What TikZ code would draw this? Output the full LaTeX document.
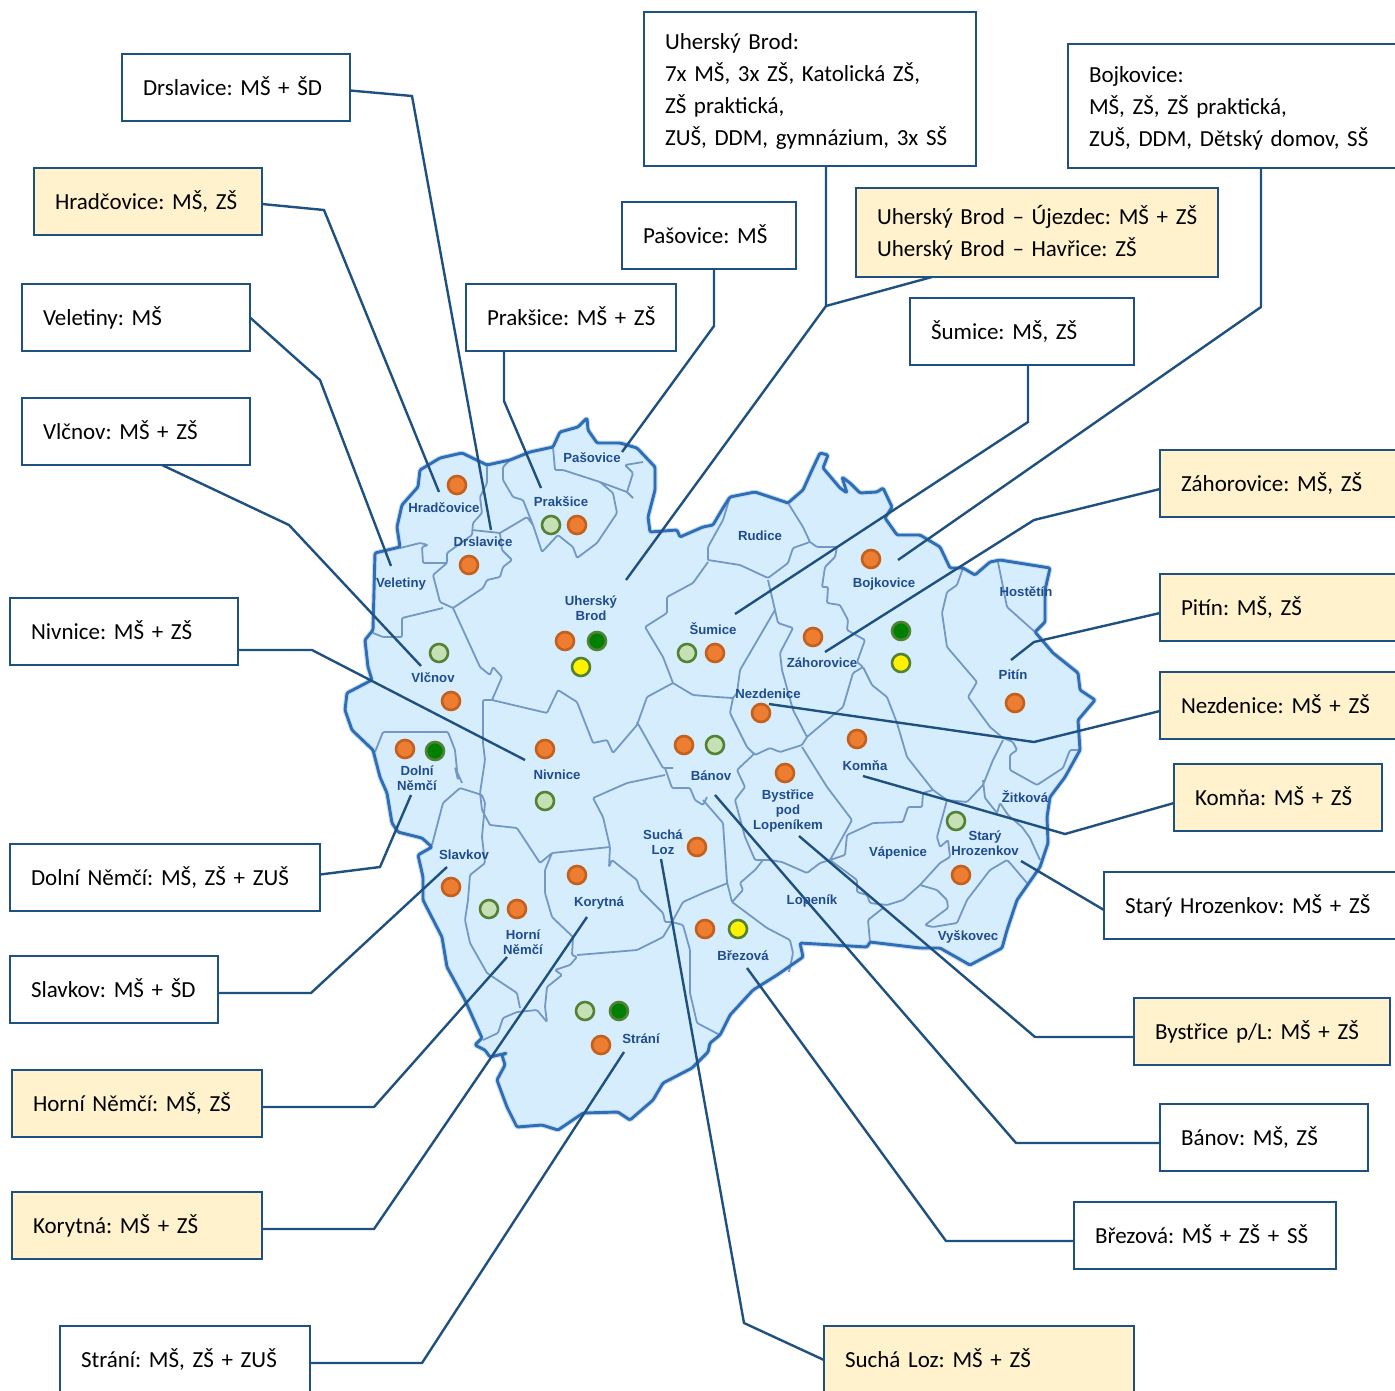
\documentclass[tikz,border=0pt]{standalone}
\usepackage{fontspec}
\setmainfont{Carlito}
\newfontfamily\mapfont{Liberation Sans}[BoldFont={Liberation Sans Bold}]
\usetikzlibrary{calc}
\frenchspacing
\definecolor{frameblue}{HTML}{1F5180}
\definecolor{paleyellow}{HTML}{FFF2CC}
\definecolor{mapfill}{HTML}{D6EDFD}
\definecolor{mapedge}{HTML}{2F6DB5}
\definecolor{mapglow}{HTML}{C4DDF3}
\definecolor{mapinner}{HTML}{7498C4}
\definecolor{maptext}{HTML}{1F4C8F}
\definecolor{dotorange}{HTML}{ED7D31}
\definecolor{dotorangeedge}{HTML}{C5601C}
\definecolor{dotlight}{HTML}{C5E0B4}
\definecolor{dotedge}{HTML}{548235}
\tikzset{
  infobox/.style={draw=frameblue,line width=2.4pt,fill=white,anchor=north west,inner xsep=21pt,inner ysep=0pt,outer sep=0pt,
    align=left,font=\fontsize{23}{32}\selectfont,text=black,minimum height=67pt,
    execute at begin node={\rule{0pt}{26.4pt}},execute at end node=\strut},
  yellowbox/.style={infobox,fill=paleyellow},
  conn/.style={draw=frameblue,line width=2.4pt,line join=miter},
  place/.style={font=\mapfont\bfseries\fontsize{13.2}{15}\selectfont,text=maptext,align=center,inner sep=0pt},
  dotbase/.style={circle,inner sep=0pt,outer sep=0pt,minimum size=18pt,line width=2.6pt},
  dotO/.style={dotbase,fill=dotorange,draw=dotorangeedge},
  dotL/.style={dotbase,fill=dotlight,draw=dotedge},
  dotD/.style={dotbase,fill=green!50!black,draw=dotedge},
  dotY/.style={dotbase,fill=yellow,draw=dotedge},
  mapline/.style={rounded corners=1.2pt,line join=round},
}
\def\mapoutline{(375,553)--(400,547)--(397,527)--(402,505)--(418,487)--(420,470)--(440,458)--(462,453)--(487,465)--(510,460)--(530,452)--(553,447)--(560,432)--(578,427)--(587,418)--(588,430)--(597,443)--(620,443)--(637,448)--(655,467)--(655,490)--(648,517)--(650,532)--(677,530)--(680,537)--(703,527)--(713,525)--(723,508)--(730,497)--(755,492)--(788,503)--(803,490)--(812,470)--(820,453)--(828,455)--(823,468)--(840,488)--(847,493)--(842,477)--(850,483)--(860,493)--(877,492)--(883,488)--(892,507)--(885,518)--(897,535)--(920,535)--(940,547)--(950,568)--(963,568)--(975,575)--(990,562)--(1000,560)--(1050,568)--(1045,590)--(1045,622)--(1035,632)--(1053,653)--(1078,673)--(1080,690)--(1095,700)--(1078,720)--(1080,750)--(1065,777)--(1050,797)--(1047,817)--(1048,843)--(1040,867)--(1017,900)--(1007,930)--(1002,948)--(970,965)--(940,948)--(920,948)--(870,942)--(867,947)--(800,943)--(803,957)--(777,975)--(753,990)--(730,1015)--(720,1035)--(710,1043)--(708,1052)--(692,1068)--(663,1083)--(653,1100)--(630,1120)--(618,1112)--(583,1113)--(558,1130)--(542,1125)--(517,1127)--(507,1107)--(497,1080)--(505,1065)--(502,1055)--(507,1053)--(490,1057)--(485,1050)--(475,1045)--(482,1038)--(465,1000)--(447,967)--(442,937)--(423,900)--(423,877)--(418,855)--(432,847)--(422,838)--(398,832)--(392,823)--(387,793)--(380,777)--(373,750)--(352,730)--(345,710)--(347,693)--(372,680)--(368,667)--(365,640)--(373,630)--cycle}
\begin{document}
\begin{tikzpicture}[x=1pt,y=-1pt]
\clip (0,0) rectangle (1395,1390);
\fill[white] (0,0) rectangle (1395,1390);
% map area
\draw[mapline,draw=mapglow,line width=5pt,fill=mapfill] \mapoutline;
% inner boundaries
\draw[mapinner,line width=1.8pt,mapline]
 (487,465)--(487,483)--(480,497)--(482,513)--(473,523)--(472,535)--(447,553)--(447,563)--(423,563)--(422,547)--(428,545)--(420,543)--(400,548)
 (472,530)--(500,533)--(502,550)--(512,560)--(503,567)--(500,577)--(487,580)--(483,588)--(453,608)--(440,602)--(433,575)--(447,563)
 (500,533)--(527,517)--(533,525)--(542,552)--(558,535)--(573,547)--(577,558)--(597,543)--(617,513)--(613,493)--(600,482)--(563,470)--(555,470)--(553,447)
 (533,525)--(523,500)--(513,497)--(503,480)--(503,467)--(510,460)
 (600,482)--(627,492)--(633,498) (627,492)--(633,473)--(625,465)--(643,462)
 (373,633)--(383,637)--(402,637)--(402,618)--(443,608)
 (453,608)--(480,667)--(490,675)--(493,667)--(502,677)--(492,700)
 (492,700)--(483,700)--(483,743)--(485,760)--(480,793)--(482,810)--(490,825)
 (492,700)--(547,713)--(558,690)--(577,702)--(593,743)--(607,740)--(613,753)--(637,725)--(647,697)--(673,683)
 (637,722)--(663,768)--(673,768)
 (665,775)--(627,783)--(593,798)--(603,817)--(610,847)--(552,853)--(540,863)--(517,828)--(490,825)
 (665,768)--(672,788)--(690,788)--(695,800)--(703,805)--(707,797)
 (703,800)--(723,823)--(727,882)
 (728,883)--(703,893)--(683,902)--(672,922)--(663,937)--(637,950)--(577,955)
 (610,847)--(609,867)--(612,860)--(637,880)--(640,890)--(663,913)--(665,922)--(672,922)--(683,925)--(690,950)--(690,993)--(697,1023)--(720,1035)
 (552,853)--(545,870)--(545,893)--(552,917)--(573,937)--(572,955)--(577,957)--(570,965)--(555,970)--(562,975)--(547,987)--(545,1007)--(547,1022)--(537,1010)--(517,1012)--(503,1018)--(498,1033)--(483,1040)
 (485,803)--(482,837)--(485,863)--(470,875)--(468,900)--(465,920)--(470,943)--(487,973)--(517,993)--(520,1008)
 (432,845)--(443,803)--(460,788)--(482,795)--(485,803)
 (375,752)--(383,732)--(448,732)--(455,750)--(458,780)--(455,767)--(462,783)
 (673,683)--(663,657)--(645,627)--(667,613)--(667,597)--(693,583)--(708,562)
 (708,560)--(740,565)--(768,578)--(788,563)--(793,548)--(810,542)--(803,527)--(788,503)
 (708,560)--(708,547)--(723,520)--(730,497)
 (810,542)--(817,547)--(837,547)--(835,557)--(825,567)--(822,587)--(828,587)--(827,603)--(840,605)--(848,620)--(847,630)--(865,640)--(857,662)--(863,667)--(853,673)--(843,707)--(827,720)--(807,737)--(793,710)--(782,670)--(780,653)--(793,628)--(778,623)--(768,580)
 (775,610)--(740,670)--(737,693)--(733,698)--(717,697)--(693,695)--(673,683)
 (733,698)--(730,713)--(747,747)--(755,755)--(770,748)--(780,752)--(802,745)--(807,737)
 (755,753)--(737,770)--(745,787)--(735,800)--(745,837)--(755,860)--(770,860)--(782,862)--(807,873)--(820,863)--(830,860)--(852,820)--(827,787)--(802,747)
 (727,882)--(732,902)--(767,928)--(790,940)--(793,953)--(789,972)
 (732,902)--(743,890)--(740,883)--(755,870)--(763,860)
 (830,860)--(857,880)--(857,892)--(867,895)--(870,903)--(887,905)--(903,900)--(920,885)--(940,863)--(950,857)--(948,840)--(940,847)--(937,837)--(947,800)--(933,790)
 (830,860)--(845,855)--(847,835)--(873,823)--(903,822)--(908,807)--(922,807)--(923,793)--(933,790)
 (863,667)--(872,685)--(887,697)--(897,723)--(907,757)--(933,790)--(947,800)--(967,802)--(983,785)--(993,760)--(1003,740)
 (963,568)--(957,585)--(947,592)--(942,613)--(947,647)--(977,682)--(968,697)--(990,727)--(1003,738)--(1013,742)--(1017,750)--(1010,755)--(1010,770)--(1037,785)--(1063,768)--(1070,750)--(1078,750)
 (998,562)--(1007,607)--(1035,632)
 (983,780)--(985,798)--(997,813)--(1000,803)--(1008,815)--(1022,827)--(1030,838)--(1040,860)
 (1027,883)--(1010,863)--(1007,860)--(990,870)--(967,900)--(957,923)--(933,927)--(925,925)--(948,908)--(947,900)--(937,890)--(920,885)
 (870,942)--(868,920)--(883,908);
% outer edge over the ends of the inner lines
\draw[mapline,draw=mapedge,line width=2.9pt] \mapoutline;
% place names
\node[place] (nHrad) at (444,508) {Hradčovice};
\node[place] (nDrsl) at (483,542) {Drslavice};
\node[place] (nPrak) at (561,502) {Prakšice};
\node[place] (nPaso) at (592,458) {Pašovice};
\node[place] (nVele) at (401,584) {Veletiny};
\node[place] (nVlcn) at (433,678) {Vlčnov};
\node[place] (nUBro) at (591,608) {Uherský\\Brod};
\node[place] (nSumi) at (713,629) {Šumice};
\node[place] (nRudi) at (760,536) {Rudice};
\node[place] (nBojk) at (884,584) {Bojkovice};
\node[place] (nHost) at (1026,592) {Hostětín};
\node[place] (nPiti) at (1013,675) {Pitín};
\node[place] (nZaho) at (822,663) {Záhorovice};
\node[place] (nNezd) at (768,694) {Nezdenice};
\node[place] (nKomn) at (865,766) {Komňa};
\node[place] (nZitk) at (1025,797) {Žitková};
\node[place] (nStar) at (985,843) {Starý\\Hrozenkov};
\node[place] (nVape) at (898,853) {Vápenice};
\node[place] (nLope) at (812,901) {Lopeník};
\node[place] (nVysk) at (968,937) {Vyškovec};
\node[place] (nByst) at (788,811) {Bystřice\\pod\\Lopeníkem};
\node[place] (nBano) at (711,776) {Bánov};
\node[place] (nBrez) at (743,956) {Březová};
\node[place] (nSuch) at (663,842) {Suchá\\Loz};
\node[place] (nKory) at (599,903) {Korytná};
\node[place] (nHorn) at (523,942) {Horní\\Němčí};
\node[place] (nStra) at (641,1039) {Strání};
\node[place] (nSlav) at (464,855) {Slavkov};
\node[place] (nNivn) at (557,775) {Nivnice};
\node[place] (nDoln) at (417,778) {Dolní\\Němčí};
% dots
\node[dotO] (d01) at (457,485) {};
\node[dotO] (d02) at (469,565) {};
\node[dotL] (d03) at (551,525) {};
\node[dotO] (d04) at (577,525) {};
\node[dotL] (d05) at (439,653) {};
\node[dotO] (d06) at (451,701) {};
\node[dotO] (d07) at (565,641) {};
\node[dotD] (d08) at (597,641) {};
\node[dotY] (d09) at (581,667) {};
\node[dotL] (d10) at (687,653) {};
\node[dotO] (d11) at (715,653) {};
\node[dotO] (d12) at (871,559) {};
\node[dotD] (d13) at (901,631) {};
\node[dotY] (d14) at (901,663) {};
\node[dotO] (d15) at (813,637) {};
\node[dotO] (d16) at (1015,703) {};
\node[dotO] (d17) at (761,713) {};
\node[dotO] (d18) at (684,745) {};
\node[dotL] (d19) at (715,745) {};
\node[dotO] (d20) at (857,739) {};
\node[dotO] (d21) at (785,773) {};
\node[dotL] (d22) at (956,821) {};
\node[dotO] (d23) at (961,875) {};
\node[dotO] (d24) at (405,749) {};
\node[dotD] (d25) at (435,751) {};
\node[dotO] (d26) at (545,749) {};
\node[dotL] (d27) at (545,801) {};
\node[dotO] (d28) at (451,887) {};
\node[dotL] (d29) at (489,909) {};
\node[dotO] (d30) at (517,909) {};
\node[dotO] (d31) at (577,875) {};
\node[dotO] (d32) at (697,847) {};
\node[dotO] (d33) at (705,929) {};
\node[dotY] (d34) at (738,929) {};
\node[dotL] (d35) at (585,1011) {};
\node[dotD] (d36) at (619,1011) {};
\node[dotO] (d37) at (601,1045) {};
% label boxes
\node[infobox,text width=186pt] (bDrsl) at (122,54) {Drslavice: MŠ + ŠD};
\node[yellowbox,text width=186pt] (bHrad) at (34,168) {Hradčovice: MŠ, ZŠ};
\node[infobox,text width=186pt] (bVele) at (22,284) {Veletiny: MŠ};
\node[infobox,text width=186pt] (bVlcn) at (22,398) {Vlčnov: MŠ + ZŠ};
\node[infobox,text width=186pt] (bNivn) at (10,598) {Nivnice: MŠ + ZŠ};
\node[infobox,text width=268pt] (bDoln) at (10,844) {Dolní Němčí: MŠ, ZŠ + ZUŠ};
\node[infobox,text width=166pt] (bSlav) at (10,956) {Slavkov: MŠ + ŠD};
\node[yellowbox,text width=208pt] (bHorn) at (12,1070) {Horní Němčí: MŠ, ZŠ};
\node[yellowbox,text width=208pt] (bKory) at (12,1192) {Korytná: MŠ + ZŠ};
\node[infobox,text width=208pt] (bStra) at (60,1326) {Strání: MŠ, ZŠ + ZUŠ};
\node[yellowbox,text width=268pt] (bSuch) at (824,1326) {Suchá Loz: MŠ + ZŠ};
\node[infobox,text width=220pt] (bBrez) at (1074,1202) {Březová: MŠ + ZŠ + SŠ};
\node[infobox,text width=166pt] (bBano) at (1160,1104) {Bánov: MŠ, ZŠ};
\node[yellowbox,text width=214pt] (bByst) at (1134,998) {\mbox{Bystřice p/L: MŠ + ZŠ}};
\node[infobox,text width=270pt] (bStar) at (1104,872) {\mbox{Starý Hrozenkov: MŠ + ZŠ}};
\node[yellowbox,text width=166pt] (bKomn) at (1174,764) {Komňa: MŠ + ZŠ};
\node[yellowbox,text width=214pt] (bNezd) at (1160,672) {Nezdenice: MŠ + ZŠ};
\node[yellowbox,text width=214pt] (bPiti) at (1160,574) {Pitín: MŠ, ZŠ};
\node[yellowbox,text width=214pt] (bZaho) at (1160,450) {Záhorovice: MŠ, ZŠ};
\node[infobox,text width=182pt] (bSumi) at (910,298) {Šumice: MŠ, ZŠ};
\node[yellowbox,text width=320pt,minimum height=89pt] (bUjez) at (856,188) {\mbox{Uherský Brod – Újezdec: MŠ + ZŠ}\\Uherský Brod – Havřice: ZŠ};
\node[infobox,text width=306pt,minimum height=124pt] (bBojk) at (1068,44) {Bojkovice:\\MŠ, ZŠ, ZŠ praktická,\\\mbox{ZUŠ, DDM, Dětský domov, SŠ}};
\node[infobox,text width=290pt,minimum height=154pt] (bUBro) at (644,12) {Uherský Brod:\\7x MŠ, 3x ZŠ, Katolická ZŠ,\\ZŠ praktická,\\\mbox{ZUŠ, DDM, gymnázium, 3x SŠ}};
\node[infobox,text width=132pt] (bPaso) at (622,202) {\mbox{Pašovice: MŠ}};
\node[infobox,text width=168pt] (bPrak) at (466,284) {\mbox{Prakšice: MŠ + ZŠ}};
% connector ends and bends
\coordinate (eDrsl) at (491,530); \coordinate (eHrad) at (439,492); \coordinate (eVele) at (391,566);
\coordinate (eVlcn) at (421,666); \coordinate (eNivn) at (525,760); \coordinate (eDoln) at (411,795);
\coordinate (eSlav) at (447,867); \coordinate (eHorn) at (507,957); \coordinate (eKory) at (587,917);
\coordinate (eStra) at (624,1052); \coordinate (eSuch) at (661,859); \coordinate (eBrez) at (747,968);
\coordinate (eBano) at (715,795); \coordinate (eByst) at (799,836); \coordinate (eStar) at (1021,861);
\coordinate (eKomn) at (863,776); \coordinate (eNezd) at (769,704); \coordinate (ePiti) at (1011,660);
\coordinate (eZaho) at (825,652); \coordinate (eBojk) at (898,560); \coordinate (eSumi) at (735,614);
\coordinate (eUBro) at (626,580); \coordinate (ePaso) at (622,452); \coordinate (ePrak) at (541,488);
\coordinate (kUBro) at (826,306);
\draw[conn] ([yshift=-3pt]bDrsl.east) -- (412,96) -- (eDrsl);
\draw[conn] ([yshift=-2.5pt]bHrad.east) -- (324,210) -- (eHrad);
\draw[conn] (bVele.east) -- (320,380) -- (eVele);
\draw[conn] ([xshift=26pt]bVlcn.south) -- (289,525) -- (eVlcn);
\draw[conn] ([yshift=15pt]bNivn.south east) -- (312,650) -- (eNivn);
\draw[conn] ([yshift=3pt]bDoln.east) -- (380,867) -- (eDoln);
\draw[conn] ([yshift=-3.5pt]bSlav.east) -- (311,993) -- (eSlav);
\draw[conn] ([yshift=-3.5pt]bHorn.east) -- (374,1107) -- (eHorn);
\draw[conn] ([yshift=-3.5pt]bKory.east) -- (374,1229) -- (eKory);
\draw[conn] ([yshift=-3.5pt]bStra.east) -- (422,1363) -- (eStra);
\draw[conn] ([yshift=-0.5pt]bSuch.west) -- (744,1323) -- (eSuch);
\draw[conn] ([yshift=-5.5pt]bBrez.west) -- (946,1241) -- (eBrez);
\draw[conn] ([yshift=-5.5pt]bBano.west) -- (1016,1143) -- (eBano);
\draw[conn] ([yshift=-5.5pt]bByst.west) -- (1035,1037) -- (eByst);
\draw[conn] ([yshift=-4.5pt]bStar.west) -- (eStar);
\draw[conn] ([yshift=-5.5pt]bKomn.west) -- (1065,834) -- (eKomn);
\draw[conn] ([yshift=-5.5pt]bNezd.west) -- (1034,742) -- (eNezd);
\draw[conn] ([yshift=-5.5pt]bPiti.west) -- (1034,642) -- (ePiti);
\draw[conn] ([yshift=-5.5pt]bZaho.west) -- (1034,520) -- (eZaho);
\draw[conn] ([xshift=19pt]bBojk.south) -- (1261,307) -- (eBojk);
\draw[conn] ([xshift=6pt]bSumi.south) -- (1028,422) -- (eSumi);
\draw[conn] ([xshift=16pt]bUBro.south) -- (kUBro) -- (eUBro);
\draw[conn] ([xshift=-105pt]bUjez.south) -- (kUBro);
\draw[conn] ([xshift=5pt]bPaso.south) -- (714,326) -- (ePaso);
\draw[conn] ([xshift=-67pt]bPrak.south) -- (504,401) -- (ePrak);
\end{tikzpicture}
\end{document}
